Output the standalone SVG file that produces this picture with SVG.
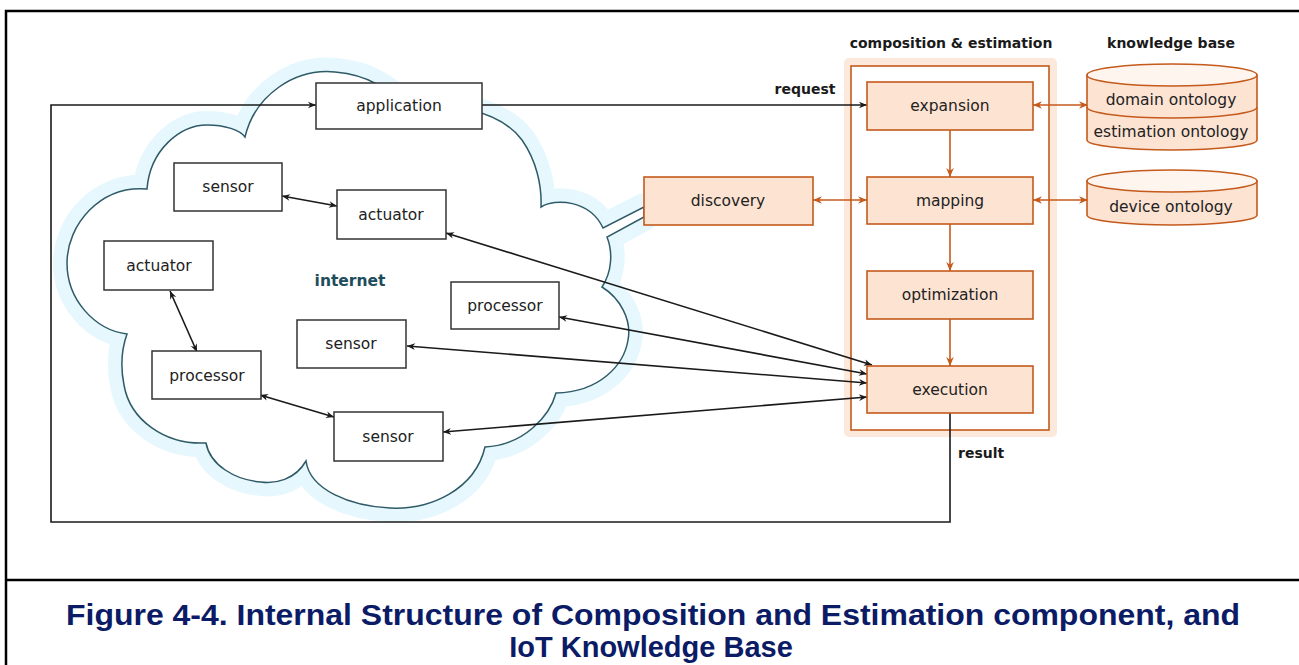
<svg xmlns="http://www.w3.org/2000/svg" width="1299" height="665" viewBox="0 0 1299 665">
<style>
.frame{stroke:#000;stroke-width:2.5;fill:none}
.bx{fill:#fff;stroke:#333;stroke-width:1.5}
.ob{fill:#fde3d2;stroke:#c45a1c;stroke-width:1.6}
.t{font-family:"DejaVu Sans",sans-serif;font-size:15.5px;fill:#222;text-anchor:middle}
.lb{font-family:"DejaVu Sans",sans-serif;font-size:14px;font-weight:bold;fill:#1a1a1a;text-anchor:middle}
.net{font-family:"DejaVu Sans",sans-serif;font-size:15.5px;font-weight:bold;fill:#1e4d5c;text-anchor:middle}
.cap{font-family:"Liberation Sans",Arial,sans-serif;font-size:29px;font-weight:bold;fill:#0b1b66;text-anchor:middle}
.bl{stroke:#1a1a1a;stroke-width:1.6;fill:none}
.ol{stroke:#c45a1c;stroke-width:1.6;fill:none}
</style>
<defs>
<marker id="ab" viewBox="0 0 10 10" refX="10" refY="5" markerWidth="10" markerHeight="8" markerUnits="userSpaceOnUse" orient="auto-start-reverse">
<path d="M0,0.8 L10,5 L0,9.2 L3,5 Z" fill="#1a1a1a"/>
</marker>
<marker id="ao" viewBox="0 0 10 10" refX="10" refY="5" markerWidth="11" markerHeight="9" markerUnits="userSpaceOnUse" orient="auto-start-reverse">
<path d="M0,0.8 L10,5 L0,9.2 L3,5 Z" fill="#c45a1c"/>
</marker>
</defs>
<rect width="1299" height="665" fill="#fff"/>
<g id="frame">
<path class="frame" d="M6,665 V11 H1299"/>
<path class="frame" d="M6,580 H1299"/>
</g>
<g id="cloud">
<path d="M245,137 C255,95 295,68 335,72 C370,75 390,90 405,108 C445,100 500,110 522,140 C536,160 542,185 541,207 C555,198 590,200 603,228 L644,207 L644,217 L607,237 C613,252 612,272 602,287 C620,298 632,320 628,340 C624,365 600,392 556,393 C550,415 525,445 485,447 C475,490 430,510 390,508 C350,506 310,490 306,461 C295,480 275,484 261,482 C235,480 210,465 206,443 C165,445 130,420 124,385 C120,365 122,348 127,334 C95,330 67,300 67,263 C67,225 100,185 147,189 C150,150 180,125 207,125 C225,125 240,130 245,137 Z" fill="none" stroke="#e6f8fd" stroke-width="28" stroke-linejoin="round"/>
<path d="M245,137 C255,95 295,68 335,72 C370,75 390,90 405,108 C445,100 500,110 522,140 C536,160 542,185 541,207 C555,198 590,200 603,228 L644,207 L644,217 L607,237 C613,252 612,272 602,287 C620,298 632,320 628,340 C624,365 600,392 556,393 C550,415 525,445 485,447 C475,490 430,510 390,508 C350,506 310,490 306,461 C295,480 275,484 261,482 C235,480 210,465 206,443 C165,445 130,420 124,385 C120,365 122,348 127,334 C95,330 67,300 67,263 C67,225 100,185 147,189 C150,150 180,125 207,125 C225,125 240,130 245,137 Z" fill="#fff" stroke="#2f5a68" stroke-width="1.5"/>
<text class="net" x="350" y="286">internet</text>
</g>
<g id="composition-estimation">
<rect x="844" y="58" width="213" height="379" rx="5" fill="#fde8dc"/>
<rect x="851" y="66" width="198" height="364" fill="#fff" stroke="#c45a1c" stroke-width="1.6"/>
<text class="lb" x="951" y="48">composition &amp; estimation</text>
</g>
<text class="lb" x="1171" y="48">knowledge base</text>
<g id="connectors">
<path class="bl" d="M950,413 V522 H51 V105 H316" stroke-width="2" marker-end="url(#ab)"/>
<path class="bl" d="M482,105 H867" stroke-width="2" marker-end="url(#ab)"/>
<text class="lb" x="805" y="94">request</text>
<text class="lb" x="958" y="458" style="text-anchor:start">result</text>
<path class="bl" d="M282,196 L337,206" marker-start="url(#ab)" marker-end="url(#ab)"/>
<path class="bl" d="M170,291 L197,352" marker-start="url(#ab)" marker-end="url(#ab)"/>
<path class="bl" d="M260,395 L334,417" marker-start="url(#ab)" marker-end="url(#ab)"/>
<path class="bl" d="M446,233 L872,365" marker-start="url(#ab)" marker-end="url(#ab)"/>
<path class="bl" d="M559,317 L867,374" marker-start="url(#ab)" marker-end="url(#ab)"/>
<path class="bl" d="M407,346 L867,383" marker-start="url(#ab)" marker-end="url(#ab)"/>
<path class="bl" d="M443,432 L867,397" marker-start="url(#ab)" marker-end="url(#ab)"/>
<path class="ol" d="M1033,105 H1088" marker-start="url(#ao)" marker-end="url(#ao)"/>
<path class="ol" d="M1033,200 H1088" marker-start="url(#ao)" marker-end="url(#ao)"/>
<path class="ol" d="M813,200 H867" marker-start="url(#ao)" marker-end="url(#ao)"/>
<path class="ol" d="M950,130 V177" marker-end="url(#ao)"/>
<path class="ol" d="M950,224 V271" marker-end="url(#ao)"/>
<path class="ol" d="M950,319 V366" marker-end="url(#ao)"/>
</g>
<g id="application"><rect class="bx" x="316" y="83" width="166" height="46"/><text class="t" x="399" y="111">application</text></g>
<g id="sensor1"><rect class="bx" x="174" y="163" width="108" height="48"/><text class="t" x="228" y="192">sensor</text></g>
<g id="actuator1"><rect class="bx" x="337" y="190" width="109" height="49"/><text class="t" x="391" y="220">actuator</text></g>
<g id="actuator2"><rect class="bx" x="104" y="241" width="109" height="49"/><text class="t" x="159" y="271">actuator</text></g>
<g id="processor1"><rect class="bx" x="451" y="282" width="108" height="47"/><text class="t" x="505" y="311">processor</text></g>
<g id="sensor2"><rect class="bx" x="297" y="320" width="109" height="48"/><text class="t" x="351" y="349">sensor</text></g>
<g id="processor2"><rect class="bx" x="152" y="351" width="109" height="48"/><text class="t" x="207" y="381">processor</text></g>
<g id="sensor3"><rect class="bx" x="334" y="412" width="109" height="49"/><text class="t" x="388" y="442">sensor</text></g>
<g id="discovery"><rect class="ob" x="644" y="177" width="169" height="48"/><text class="t" x="728" y="206">discovery</text></g>
<g id="expansion"><rect class="ob" x="867" y="82" width="166" height="48"/><text class="t" x="950" y="111">expansion</text></g>
<g id="mapping"><rect class="ob" x="867" y="177" width="166" height="47"/><text class="t" x="950" y="206">mapping</text></g>
<g id="optimization"><rect class="ob" x="867" y="271" width="166" height="48"/><text class="t" x="950" y="300">optimization</text></g>
<g id="execution"><rect class="ob" x="867" y="366" width="166" height="47"/><text class="t" x="950" y="395">execution</text></g>
<g id="domain-estimation-ontology">
<path d="M1087,75 V140 A85,10 0 0 0 1257,140 V75 Z" fill="#fde3d2" stroke="#c45a1c" stroke-width="1.6"/>
<path d="M1087,107 A85,11 0 0 0 1257,107" fill="none" stroke="#c45a1c" stroke-width="1.6"/>
<ellipse cx="1172" cy="75" rx="85" ry="11" fill="#fff5ef" stroke="#c45a1c" stroke-width="1.6"/>
<text class="t" x="1171" y="105">domain ontology</text>
<text class="t" x="1171" y="137">estimation ontology</text>
</g>
<g id="device-ontology">
<path d="M1087,181 V215 A85,10 0 0 0 1257,215 V181 Z" fill="#fde3d2" stroke="#c45a1c" stroke-width="1.6"/>
<ellipse cx="1172" cy="181" rx="85" ry="11" fill="#fff5ef" stroke="#c45a1c" stroke-width="1.6"/>
<text class="t" x="1171" y="212">device ontology</text>
</g>
<g id="caption">
<text class="cap" x="653" y="625" textLength="1174" lengthAdjust="spacingAndGlyphs">Figure 4-4. Internal Structure of Composition and Estimation component, and</text>
<text class="cap" x="651" y="657">IoT Knowledge Base</text>
</g>
</svg>
